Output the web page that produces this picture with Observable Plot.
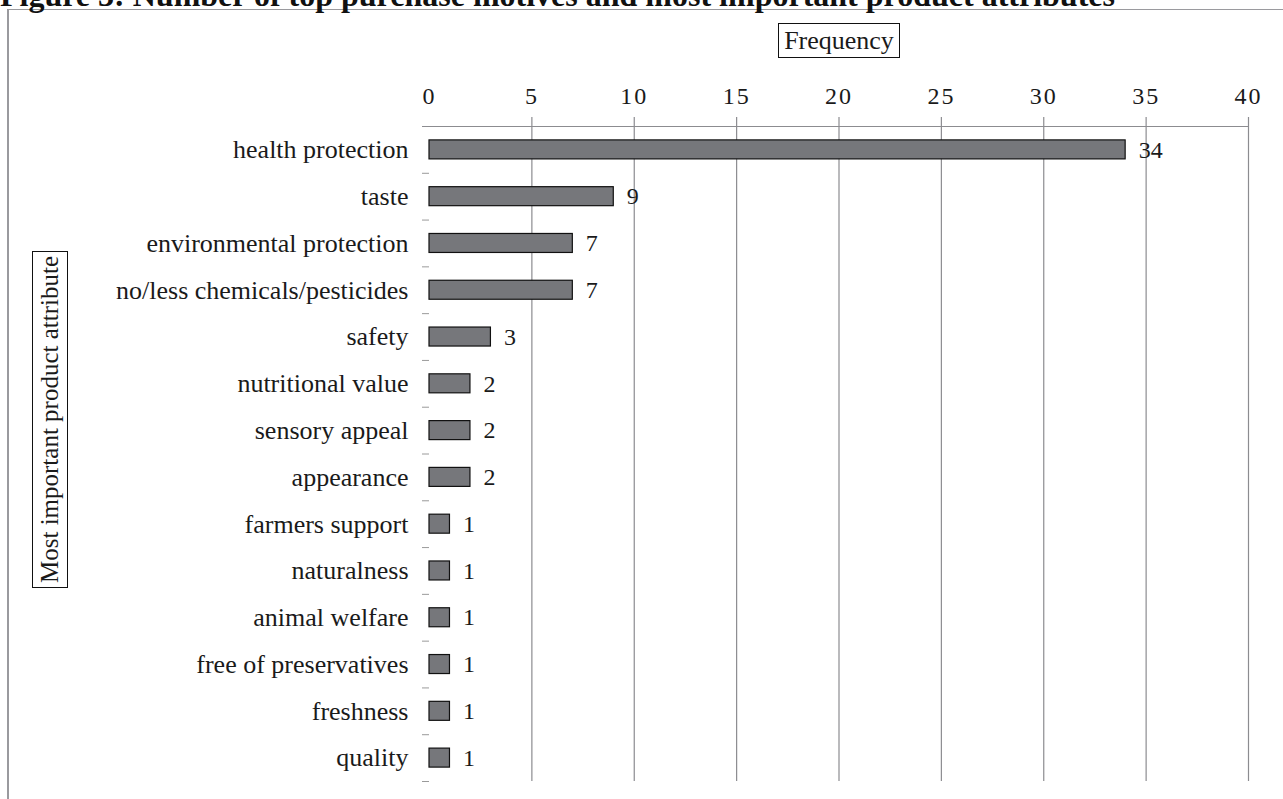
<!DOCTYPE html>
<html><head><meta charset="utf-8">
<script src="https://cdn.jsdelivr.net/npm/d3@7"></script>
<script src="https://cdn.jsdelivr.net/npm/@observablehq/plot@0.6"></script>
<style>
body{margin:0;background:#fff;overflow:hidden}
#wrap{position:relative;width:1283px;height:799px;font-family:"Liberation Serif",serif;color:#1a1a1a;overflow:hidden}
#chart{position:absolute;left:0;top:0}
#frame{position:absolute;left:7px;top:9px;right:0;bottom:-5px;border-left:2px solid #9a9a9e;border-top:1.5px solid #9a9a9e}
#title{position:absolute;left:0;top:-21px;font-weight:bold;font-size:32px;line-height:32px;white-space:nowrap;color:#111}
#xlab{position:absolute;left:778px;top:23px;width:120px;height:33px;border:1.5px solid #111;font-size:26px;line-height:33px;text-align:center}
#ylab{position:absolute;left:32px;top:251px;width:34px;height:335px;border:1.5px solid #111;font-size:25px;line-height:34px;text-align:center;white-space:nowrap;writing-mode:vertical-rl;transform:rotate(180deg)}
svg [aria-label="x-axis tick label"] text{letter-spacing:2px}
</style>
</head><body>
<div id="wrap">
<div id="chart"></div>
<div id="frame"></div>
<div id="title">Figure 3: Number of top purchase motives and most important product attributes</div>
<div id="xlab">Frequency</div>
<div id="ylab">Most important product attribute</div>
</div>
<script>
const categories = ["health protection","taste","environmental protection","no/less chemicals/pesticides","safety","nutritional value","sensory appeal","appearance","farmers support","naturalness","animal welfare","free of preservatives","freshness","quality"];
const values = [34,9,7,7,3,2,2,2,1,1,1,1,1,1];
const xTicks = [0,5,10,15,20,25,30,35,40];

const rows = categories.map((c,i)=>({category:c, value:values[i]}));
const H = 799, MT = 126, MB = 18;
const step = (H - MT - MB) / categories.length;

const chart = Plot.plot({
  width:1283, height:H, marginLeft:429, marginRight:35, marginTop:MT, marginBottom:MB,
  style:{fontFamily:"Liberation Serif", fontSize:"26px", color:"#1a1a1a", background:"transparent"},
  x:{domain:[0,40]},
  y:{domain:categories, paddingInner:0.594, paddingOuter:0.297, round:false},
  marks:[
    Plot.ruleX(xTicks.filter(d=>d>0), {stroke:"#8c8c90", strokeOpacity:1, strokeWidth:1.2, insetTop:-9}),
    Plot.ruleY([categories[0]], {stroke:"#8c8c90", strokeOpacity:1, strokeWidth:1.2, dy:-step/2, insetLeft:-7}),
    Plot.ruleY(categories, {x1:0, x2:0, insetLeft:-7, dy:step/2, stroke:"#9a9a9a", strokeOpacity:1}),
    Plot.barX(rows, {x:"value", y:"category", fill:"#76777b", stroke:"#111", strokeWidth:1.2}),
    Plot.text(rows, {x:"value", y:"category", text:d=>String(d.value), dx:13, textAnchor:"start", fontSize:24}),
    Plot.axisX({anchor:"top", ticks:xTicks, tickSize:0, tickPadding:23, label:null, fontSize:24}),
    Plot.axisY({tickSize:0, tickPadding:21, label:null, fontSize:26})
  ]
});
document.getElementById("chart").appendChild(chart);
</script>
</body></html>
